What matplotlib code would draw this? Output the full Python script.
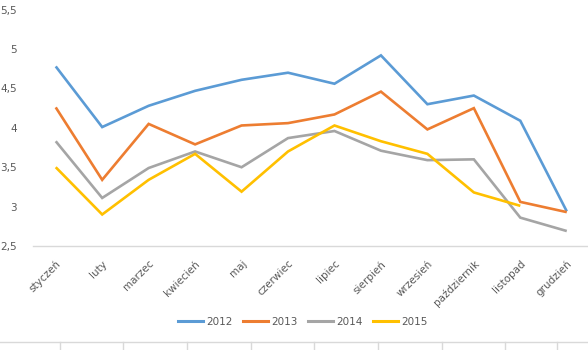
import matplotlib.pyplot as plt
from matplotlib.lines import Line2D
from matplotlib.ticker import FuncFormatter

months = ['styczeń', 'luty', 'marzec', 'kwiecień', 'maj', 'czerwiec', 'lipiec',
          'sierpień', 'wrzesień', 'październik', 'listopad', 'grudzień']
y2012 = [4.78, 4.01, 4.28, 4.47, 4.61, 4.70, 4.56, 4.92, 4.30, 4.41, 4.09, 2.94]
y2013 = [4.26, 3.34, 4.05, 3.79, 4.03, 4.06, 4.17, 4.46, 3.98, 4.25, 3.06, 2.93]
y2014 = [3.83, 3.11, 3.49, 3.70, 3.50, 3.87, 3.96, 3.71, 3.59, 3.60, 2.86, 2.69]
y2015 = [3.50, 2.90, 3.34, 3.67, 3.19, 3.70, 4.03, 3.83, 3.67, 3.18, 3.01]

series = [('2012', y2012, '#5B9BD5'), ('2013', y2013, '#ED7D31'),
          ('2014', y2014, '#A5A5A5'), ('2015', y2015, '#FFC000')]

fig = plt.figure(figsize=(5.88, 3.5), dpi=100)
ax = fig.add_axes([32.5 / 588, 1 - 246 / 350, (590 - 32.5) / 588, (246 - 9.7) / 350])

for name, vals, col in series:
    ax.plot(range(len(vals)), vals, color=col, lw=1.9, label=name,
            solid_joinstyle='miter', solid_capstyle='butt')

ax.set_xlim(-0.5, 11.5)
ax.set_ylim(2.5, 5.5)
ax.set_yticks([2.5, 3, 3.5, 4, 4.5, 5, 5.5])
ax.yaxis.set_major_formatter(FuncFormatter(lambda v, p: ('%g' % v).replace('.', ',')))
ax.set_xticks(range(12))
ax.set_xticklabels(months, rotation=45, ha='right', rotation_mode='anchor')

for s in ['top', 'right', 'left']:
    ax.spines[s].set_visible(False)
ax.spines['bottom'].set_color('#d9d9d9')
ax.spines['bottom'].set_linewidth(1.0)
ax.tick_params(axis='both', length=0, labelsize=7.5, colors='#595959')
ax.tick_params(axis='y', pad=11)
ax.tick_params(axis='x', pad=9)

handles = [Line2D([], [], color=c, lw=2.2) for _, _, c in series]
fig.legend(handles, [n for n, _, _ in series], loc='center', ncol=4,
           bbox_to_anchor=(303 / 588, 1 - 322 / 350), frameon=False,
           fontsize=7.5, handlelength=2.4, columnspacing=1.0, handletextpad=0.3,
           labelcolor='#595959')

# cell borders below the chart
fig.add_artist(Line2D([0, 1], [1 - 342 / 350] * 2, color='#d9d9d9', lw=1))
for xp in [60, 123, 187, 251, 314, 378, 442, 505, 557]:
    fig.add_artist(Line2D([xp / 588] * 2, [0, 1 - 342 / 350], color='#d9d9d9', lw=1))

fig.savefig('out.png', dpi=100, facecolor='white')
